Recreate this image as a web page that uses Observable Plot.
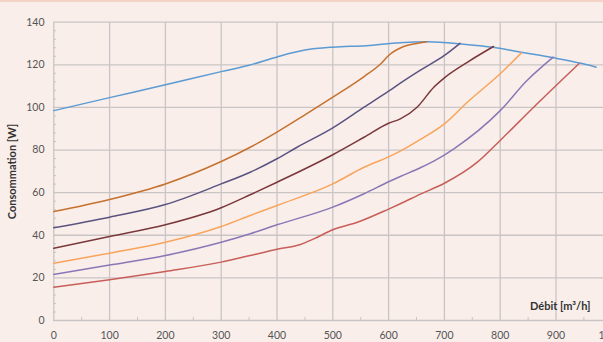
<!DOCTYPE html>
<html>
<head>
<meta charset="utf-8">
<script src="https://cdn.jsdelivr.net/npm/d3@7"></script>
<script src="https://cdn.jsdelivr.net/npm/@observablehq/plot@0.6"></script>
<style>
  html, body { margin: 0; padding: 0; overflow: hidden; background: #F9EEEA; }
  body { width: 603px; height: 342px; position: relative; }
  #topline { position: absolute; left: 0; top: 0; width: 603px; height: 2px; background: #F4D2C6; }
  #chart svg { display: block; }
</style>
</head>
<body>
<div id="topline"></div>
<div id="chart"></div>
<script>
// Tick values
const xTicks = [0, 100, 200, 300, 400, 500, 600, 700, 800, 900, 1000];
const xMinor = [50, 150, 250, 350, 450, 550, 650, 750, 850, 950];
const yTicks = [0, 20, 40, 60, 80, 100, 120, 140];
const yMinor = d3.range(0, 141, 4).filter(v => v % 20 !== 0);

// Series (Débit m3/h -> Consommation W)
const blueX = [0, 100, 200, 300, 350, 400, 450, 500, 560, 620, 670, 730, 790, 840, 895, 945, 972];
const blueY = [98.5, 104.6, 110.6, 116.8, 119.8, 123.7, 126.9, 128.3, 129, 130.4, 130.8, 129.8, 128.1, 125.8, 123.3, 120.7, 118.9];

const orangeX = [0, 100, 200, 300, 352, 400, 450, 500, 556, 586, 600, 627, 650, 668];
const orangeY = [51.1, 56.8, 64.1, 74.6, 81.3, 88.4, 96.5, 104.8, 114.5, 120.5, 124.4, 128.6, 130, 130.8];

const navyX = [0, 100, 200, 300, 352, 400, 436, 500, 556, 600, 621, 657, 700, 728];
const navyY = [43.5, 48.5, 54.4, 64.1, 69.6, 75.9, 81.3, 90.4, 100.1, 107.6, 111.4, 117.5, 124.4, 130.1];

const maroonX = [0, 100, 200, 300, 352, 400, 500, 556, 600, 621, 651, 681, 700, 741, 788];
const maroonY = [33.9, 39.4, 44.9, 52.9, 59, 64.9, 77.8, 86, 92.6, 94.6, 100.1, 109.5, 113.9, 121.2, 128.6];

const lightOrangeX = [0, 100, 200, 300, 352, 400, 500, 556, 600, 621, 657, 700, 741, 800, 838];
const lightOrangeY = [26.9, 31.6, 36.7, 44.1, 49.3, 54, 64.1, 71.9, 76.8, 79.5, 85.0, 92.3, 102.4, 115.8, 125.6];

const purpleX = [0, 100, 200, 300, 352, 400, 500, 556, 600, 621, 657, 681, 717, 800, 848, 895];
const purpleY = [21.6, 26, 30.5, 36.7, 40.7, 44.9, 53.2, 59.5, 65.1, 67.6, 71.7, 74.8, 80.6, 98.5, 112.6, 123.6];

const redX = [0, 100, 200, 300, 352, 400, 442, 466, 500, 544, 600, 621, 657, 700, 759, 800, 860, 941];
const redY = [15.6, 19.1, 23, 27.4, 30.5, 33.4, 35.7, 38.3, 42.6, 46.1, 52.3, 54.8, 59.3, 64.4, 74.3, 84.5, 100.1, 120.5];

const seriesColors = ["#5B9AD3", "#C6712E", "#5A5380", "#7A383B", "#F9A45C", "#8A77B6", "#C85E59"];
const seriesList = [
  [blueX, blueY], [orangeX, orangeY], [navyX, navyY], [maroonX, maroonY],
  [lightOrangeX, lightOrangeY], [purpleX, purpleY], [redX, redY]
];

const gridColor = "#C9C5C5";

const lineMarks = seriesList.map(([xs, ys], i) =>
  Plot.line(xs.map((x, j) => ({x, y: ys[j]})), {
    x: "x", y: "y", stroke: seriesColors[i], strokeWidth: 1.5, curve: "monotone-x"
  })
);

const chart = Plot.plot({
  width: 603,
  height: 342,
  marginLeft: 53,
  marginRight: 0,
  marginTop: 22,
  marginBottom: 22,
  style: { background: "transparent", fontFamily: "Lato, 'Open Sans', sans-serif", fontSize: "10px", color: "#555" },
  x: { domain: [0, 1000], range: [53.3, 611.3] },
  y: { domain: [0, 140], range: [320, 21.7] },
  marks: [
    Plot.gridX(xTicks.filter(v => v > 0), { stroke: gridColor, strokeOpacity: 1, strokeWidth: 1.3 }),
    Plot.gridY(yTicks.filter(v => v > 0), { stroke: gridColor, strokeOpacity: 1, strokeWidth: 1.3 }),
    Plot.ruleX([0], { stroke: gridColor, strokeWidth: 1.3 }),
    Plot.ruleY([0], { stroke: gridColor, strokeWidth: 1.3 }),
    Plot.axisY({ ticks: yMinor, tickSize: 3, dx: 3, text: null, stroke: gridColor, label: null }),
    Plot.axisX({ ticks: xMinor, tickSize: 3, dy: -3, text: null, stroke: gridColor, label: null }),
    Plot.axisY({ ticks: yTicks, tickSize: 0, tickPadding: 9, label: null, fill: "#555", fontSize: 10.5 }),
    Plot.axisX({ ticks: xTicks, tickSize: 0, tickPadding: 11, label: null, fill: "#555", fontSize: 10.5 }),
    ...lineMarks,
    Plot.text(["Débit [m³/h]"], {
      frameAnchor: "bottom-right", dx: -13, dy: -14, textAnchor: "end", lineAnchor: "middle",
      fontWeight: "bold", fontSize: 11, fill: "#333"
    }),
    Plot.text(["Consommation [W]"], {
      frameAnchor: "left", dx: -41, rotate: -90, textAnchor: "middle", lineAnchor: "middle",
      fontWeight: "bold", fontSize: 11, fill: "#333"
    })
  ]
});
document.getElementById("chart").appendChild(chart);
</script>
</body>
</html>
